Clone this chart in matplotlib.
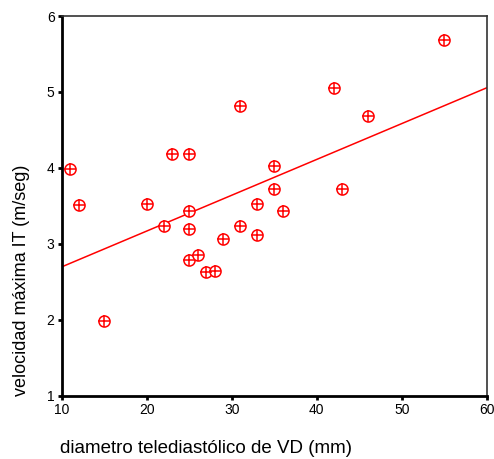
import numpy as np
import matplotlib
matplotlib.use("Agg")
import matplotlib.pyplot as plt

plt.rcParams['font.family'] = ['Liberation Sans', 'DejaVu Sans']

# diámetro telediastólico de VD (mm)
diametro = [11, 12, 15, 20, 22, 23, 25, 25, 25, 25, 26, 27, 28, 29, 31, 31,
            33, 33, 35, 35, 36, 42, 43, 46, 55]
# velocidad máxima IT (m/seg)
velocidad = [3.98, 3.51, 1.98, 3.53, 3.23, 4.18, 4.18, 3.43, 3.20, 2.79, 2.85,
             2.63, 2.64, 3.07, 4.81, 3.23, 3.52, 3.12, 4.02, 3.72, 3.43, 5.05,
             3.72, 4.69, 5.68]

x_ticks = [10, 20, 30, 40, 50, 60]
y_ticks = [1, 2, 3, 4, 5, 6]

fig = plt.figure(figsize=(4.94, 4.59), dpi=100)
ax = fig.add_axes([0.1245, 0.138, 0.8613, 0.827])

# recta de regresión por mínimos cuadrados
slope, intercept = np.polyfit(diametro, velocidad, 1)
xl = np.array([10, 60])
ax.plot(xl, intercept + slope * xl, color='red', lw=1.1, zorder=2)

ax.plot(diametro, velocidad, linestyle='none', marker='o', ms=8,
        mfc='white', mec='red', mew=1.1, zorder=3)
ax.plot(diametro, velocidad, linestyle='none', marker='+', ms=8,
        mec='red', mew=1.1, zorder=4)

ax.set_xlim(10, 60)
ax.set_ylim(1, 6)
ax.set_xticks(x_ticks)
ax.set_yticks(y_ticks)
ax.tick_params(direction='out', length=3, width=2, labelsize=10,
               pad=2, colors='black')

for side in ['left', 'bottom']:
    ax.spines[side].set_linewidth(2)
    ax.spines[side].set_color('black')
for side in ['top', 'right']:
    ax.spines[side].set_linewidth(1.2)
    ax.spines[side].set_color('#333333')

fig.text(0.122, 0.012, 'diametro telediastólico de VD (mm)', fontsize=13.5,
         ha='left', va='baseline')
fig.text(0.026, 0.39, 'velocidad máxima IT (m/seg)', fontsize=13,
         rotation=90, ha='left', va='center')

fig.savefig('out.png', dpi=100)
